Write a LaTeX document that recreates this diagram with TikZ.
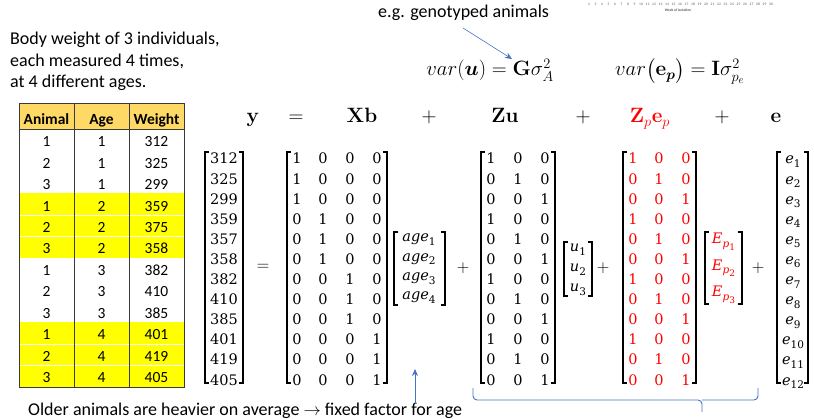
\documentclass[tikz,border=0pt]{standalone}
\usepackage{amsmath,bm}
\usepackage[no-math]{fontspec}
\setmainfont{Carlito}
\newfontfamily\dvs{DejaVu Serif}
\usetikzlibrary{arrows.meta}
\definecolor{hdrfill}{HTML}{FFD966}
\definecolor{yel}{HTML}{FFFF00}
\definecolor{arrowblue}{HTML}{4472C4}
\definecolor{tline}{HTML}{3A3A3A}
\newcommand\mybrackets[5]{%
  \draw[brk,#5] ({#1+4},#3) -- (#1,#3) -- (#1,#4) -- ({#1+4},#4);
  \draw[brk,#5] ({#2-4},#3) -- (#2,#3) -- (#2,#4) -- ({#2-4},#4);}
\newcommand\sbx[2]{{\itshape #1}\raisebox{-3.5pt}{\fontsize{10.5}{11}\selectfont #2}}
\newcommand\sbxx[2]{{\itshape E}\raisebox{-3.5pt}{\fontsize{10.5}{11}\selectfont\itshape p\raisebox{-3pt}{\fontsize{9}{9}\selectfont\upshape #2}}}
\begin{document}
\begin{tikzpicture}[x=1pt,y=-1pt,
  txt/.style={font=\fontsize{18}{21.5}\selectfont, inner sep=0pt, anchor=base west},
  tcell/.style={font=\fontsize{15.5}{18}\selectfont, inner sep=0pt, anchor=base},
  thead/.style={font=\fontsize{15.5}{18}\selectfont\bfseries, inner sep=0pt, anchor=base},
  mnum/.style={font=\dvs\fontsize{14.5}{16}\selectfont, inner sep=0pt, anchor=base},
  brk/.style={line width=1.1pt, line cap=butt},
  hdr/.style={font=\fontsize{19.5}{22}\selectfont, inner sep=0pt, anchor=base},
  opsign/.style={font=\fontsize{18}{20}\selectfont, inner sep=0pt, anchor=center},
  tiny/.style={font=\fontsize{3.6}{4}\selectfont, text=black!65, inner sep=0pt},
  bluearrow/.style={draw=arrowblue, line width=0.6pt, -{Stealth[length=7pt,width=6pt]}},
  bluebrace/.style={draw=arrowblue, line width=0.9pt, rounded corners=4pt},
]
\useasboundingbox (0,0) rectangle (814,419);

% --- tiny residue of a chart at top right
\foreach \n [count=\k] in {2,...,30}{
  \node[tiny] (wk\k) at ({589+(\k-1)*6.5},4) {\n};}
\node[tiny, font=\fontsize{3.6}{4}\selectfont\bfseries] (wklab) at (678,10) {Week of lactation};

% --- description text
\node[txt] (body1) at (10,45) {Body weight of 3 individuals,};
\node[txt] (body2) at (10,66.5) {each measured 4 times,};
\node[txt] (body3) at (10,88) {at 4 different ages.};
\node[txt] (eg) at (378,18) {e.g. genotyped animals};
\node[txt] (older) at (28,416) {Older animals are heavier on average $\rightarrow$ fixed factor for age};

% --- variance formulas
\node[inner sep=0pt, anchor=base, font=\fontsize{22}{24}\selectfont] (varu) at (490,76)
  {$var(\boldsymbol{u}) = \mathbf{G}\sigma_A^2$};
\node[inner sep=0pt, anchor=base, font=\fontsize{22}{24}\selectfont] (varep) at (680,76)
  {$var\big(\mathbf{e}_{\boldsymbol{p}}\big) = \mathbf{I}\sigma_{p_e}^2$};
\coordinate (egstart) at (463,28);
\coordinate (gtip) at (512,59);
\draw[bluearrow] (egstart) -- (gtip);

% --- table
\fill[hdrfill] (19,103) rectangle (184,129);
\fill[yel] (19,193.5) rectangle (184,258);
\fill[yel] (19,322.5) rectangle (184,387);
\draw[white, line width=0.5pt] (19,215) -- (184,215) (19,236.5) -- (184,236.5)
  (19,344) -- (184,344) (19,365.5) -- (184,365.5);
\draw[tline, line width=0.9pt] (19,103) rectangle (184,387)
  (74,103) -- (74,387) (129,103) -- (129,387) (19,129) -- (184,129);
\node[thead] (hA) at (46.5,125) {Animal};
\node[thead] (hB) at (101.5,125) {Age};
\node[thead] (hC) at (156.5,125) {Weight};
\foreach \a/\g/\w [count=\i] in {1/1/312,2/1/325,3/1/299,1/2/359,2/2/375,3/2/358,
   1/3/382,2/3/410,3/3/385,1/4/401,2/4/419,3/4/405}{
  \pgfmathsetmacro\by{146.7+(\i-1)*21.45}
  \node[tcell] (ta\i) at (46.5,\by) {\a};
  \node[tcell] (tg\i) at (101.5,\by) {\g};
  \node[tcell] (tw\i) at (156.5,\by) {\w};
}

% --- header of the model
\node[hdr] (Hy) at (253,123) {$\mathbf{y}$};
\node[hdr] (Heq) at (296,123) {$=$};
\node[hdr] (HXb) at (362,123) {$\mathbf{Xb}$};
\node[hdr] (Hp1) at (429,123) {$+$};
\node[hdr] (HZu) at (505,123) {$\mathbf{Zu}$};
\node[hdr] (Hp2) at (583,123) {$+$};
\node[hdr, text=red] (HZp) at (650,123) {$\mathbf{Z}_p\mathbf{e}_p$};
\node[hdr] (Hp3) at (722,123) {$+$};
\node[hdr] (He) at (776,123) {$\mathbf{e}$};

% --- brackets
\mybrackets{205}{243}{152}{383}{black}
\mybrackets{287}{387}{152}{383}{black}
\mybrackets{394}{445}{232}{305}{black}
\mybrackets{481}{555}{152}{383}{black}
\mybrackets{564}{592}{242}{296}{black}
\mybrackets{623}{696}{152}{383}{black}
\mybrackets{705}{742}{232}{304}{black}
\mybrackets{777}{808}{152}{383}{black}

% --- matrix entries
\foreach \v/\a/\z [count=\i] in {312/1/1,325/1/2,299/1/3,359/2/1,357/2/2,358/2/3,
   382/3/1,410/3/2,385/3/3,401/4/1,419/4/2,405/4/3}{
  \pgfmathsetmacro\ry{164+(\i-1)*20.1}
  \node[mnum] (y\i) at (224,\ry) {\v};
  \foreach \c/\cx in {1/297,2/323,3/350,4/377}{
    \pgfmathtruncatemacro\val{ifthenelse(\a==\c,1,0)}
    \node[mnum] (x\i-\c) at (\cx,\ry) {\val};
  }
  \foreach \c/\cx/\dx in {1/491/633,2/518/659,3/545/686}{
    \pgfmathtruncatemacro\val{ifthenelse(\z==\c,1,0)}
    \node[mnum] (z\i-\c) at (\cx,\ry) {\val};
    \node[mnum, text=red] (zp\i-\c) at (\dx,\ry) {\val};
  }
  \node[mnum] (e\i) at (793,\ry) {\sbx{e}{\i}};
}
\foreach \k/\by in {1/242,2/261.5,3/281,4/300}{
  \node[mnum] (b\k) at (419,\by) {\sbx{age}{\k}};}
\foreach \k/\by in {1/252,2/272,3/292}{
  \node[mnum] (u\k) at (578,\by) {\sbx{u}{\k}};}
\foreach \k/\by in {1/244,2/270.5,3/297}{
  \node[mnum, text=red] (ep\k) at (723.5,\by) {\sbxx{E}{\k}};}

% --- operators between matrices
\node[opsign] (oeq) at (263,267) {$=$};
\node[opsign] (op1) at (463,268) {$+$};
\node[opsign] (op2) at (603,268) {$+$};
\node[opsign] (op3) at (758,268) {$+$};

% --- bottom annotations
\coordinate (aft) at (415,404);
\coordinate (ath) at (415,369);
\draw[bluearrow] (aft) -- (ath);
\coordinate (brL) at (473,388);
\coordinate (brR) at (758,388);
\coordinate (brM) at (702,400);
\coordinate (brT) at (702,412);
\draw[bluebrace] (brL) |- (brM) -- (brT);
\draw[bluebrace] (brR) |- (brM);
\end{tikzpicture}
\end{document}
